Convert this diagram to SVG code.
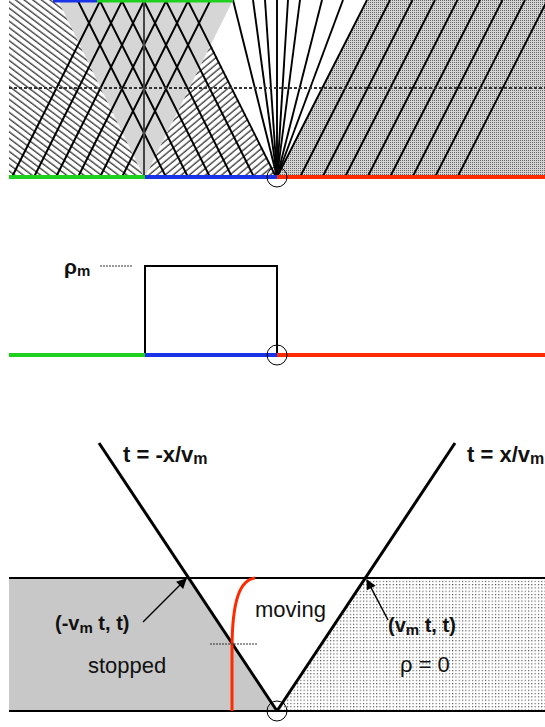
<svg xmlns="http://www.w3.org/2000/svg" width="545" height="727" viewBox="0 0 545 727">
<style>
.ch{stroke:#000;stroke-width:1.9;fill:none}
.thick{stroke:#000;stroke-width:3;fill:none}
.ax{stroke:#000;stroke-width:2;fill:none}
.g{stroke:#1ed11e;stroke-width:4}
.b{stroke:#1a33e6;stroke-width:4}
.r{stroke:#ff2a00;stroke-width:4}
.circ{stroke:#000;stroke-width:1;fill:none}
.dash{stroke:#333;stroke-width:1.8;stroke-dasharray:3 2;fill:none}
text{font-family:"Liberation Sans",Arial,sans-serif;fill:#111}
.bl{font-weight:bold}
</style>
<defs>
<pattern id="hatchL" width="8" height="5.2" patternUnits="userSpaceOnUse" patternTransform="rotate(37)">
<line x1="0" y1="1" x2="8" y2="1" stroke="#111" stroke-width="1.1"/>
</pattern>
<pattern id="hatchR" width="8" height="5.2" patternUnits="userSpaceOnUse" patternTransform="rotate(-40)">
<line x1="0" y1="1" x2="8" y2="1" stroke="#111" stroke-width="1.1"/>
</pattern>
<pattern id="stip" width="2" height="2" patternUnits="userSpaceOnUse">
<rect width="2" height="2" fill="#d4d4d4"/>
<rect width="1" height="1" fill="#666"/>
</pattern>
<pattern id="dots" width="3.3" height="3.3" patternUnits="userSpaceOnUse">
<rect width="3.3" height="3.3" fill="#fff"/>
<rect width="1.1" height="1.1" fill="#444"/>
</pattern>
<marker id="ah" viewBox="0 0 10 10" refX="9" refY="5" markerWidth="11" markerHeight="10" orient="auto" markerUnits="userSpaceOnUse">
<path d="M0,0 L10,5 L0,10 z" fill="#000"/>
</marker>
</defs>

<g id="top-panel">
<polygon points="9,0 58,0 144,177 9,177" fill="url(#hatchL)"/>
<polygon points="145,177 210.8,44.6 277,177" fill="url(#hatchR)"/>
<polygon points="58,0 233,0 145,177 144,177" fill="#d6d6d6"/>
<polygon points="367,0 545,0 545,177 277,177" fill="url(#stip)"/>
<g id="green-chars">
<line class="ch" x1="12" y1="177" x2="100.5" y2="0"/>
<line class="ch" x1="34" y1="177" x2="122.5" y2="0"/>
<line class="ch" x1="56" y1="177" x2="144.5" y2="0"/>
<line class="ch" x1="78" y1="177" x2="166.5" y2="0"/>
<line class="ch" x1="100" y1="177" x2="188.5" y2="0"/>
<line class="ch" x1="122" y1="177" x2="210.5" y2="0"/>
</g>
<g id="blue-chars">
<line class="ch" x1="166" y1="177" x2="77.5" y2="0"/>
<line class="ch" x1="188" y1="177" x2="99.5" y2="0"/>
<line class="ch" x1="210" y1="177" x2="121.5" y2="0"/>
<line class="ch" x1="232" y1="177" x2="143.5" y2="0"/>
<line class="ch" x1="254" y1="177" x2="165.5" y2="0"/>
<line class="ch" x1="276" y1="177" x2="187.5" y2="0"/>
</g>
<g id="fan">
<line class="ch" x1="277" y1="177" x2="233" y2="0"/>
<line class="ch" x1="277" y1="177" x2="253" y2="0"/>
<line class="ch" x1="277" y1="177" x2="265" y2="0"/>
<line class="ch" x1="277" y1="177" x2="277" y2="0"/>
<line class="ch" x1="277" y1="177" x2="288" y2="0"/>
<line class="ch" x1="277" y1="177" x2="300" y2="0"/>
<line class="ch" x1="277" y1="177" x2="322" y2="0"/>
<line class="ch" x1="277" y1="177" x2="343" y2="0"/>
<line class="ch" x1="277" y1="177" x2="367" y2="0"/>
</g>
<g id="red-chars">
<line class="ch" x1="300" y1="177" x2="390" y2="0"/>
<line class="ch" x1="322.5" y1="177" x2="412.5" y2="0"/>
<line class="ch" x1="345" y1="177" x2="435" y2="0"/>
<line class="ch" x1="367.5" y1="177" x2="457.5" y2="0"/>
<line class="ch" x1="390" y1="177" x2="480" y2="0"/>
<line class="ch" x1="412.5" y1="177" x2="502.5" y2="0"/>
<line class="ch" x1="435" y1="177" x2="525" y2="0"/>
<line class="ch" x1="457.5" y1="177" x2="547.5" y2="0"/>
</g>
<line x1="144" y1="0" x2="144" y2="177" stroke="#444" stroke-width="2"/>
<line class="dash" x1="9" y1="88" x2="545" y2="88"/>
<line class="b" x1="53" y1="0.5" x2="97" y2="0.5" stroke-width="3"/>
<line class="g" x1="97" y1="0.5" x2="233" y2="0.5" stroke-width="3"/>
<line class="g" x1="9" y1="177" x2="145" y2="177"/>
<line class="b" x1="145" y1="177" x2="277" y2="177"/>
<line class="r" x1="277" y1="177" x2="545" y2="177"/>
<circle class="circ" cx="277" cy="177" r="10"/>
</g>

<g id="middle-panel">
<polyline class="ax" points="145,355 145,266 277,266 277,355"/>
<line x1="100" y1="266" x2="133" y2="266" stroke="#333" stroke-width="1" stroke-dasharray="2 1"/>
<text class="bl" x="64" y="274" font-size="21">ρ<tspan font-size="15" dy="2">m</tspan></text>
<line class="g" x1="9" y1="355" x2="145" y2="355"/>
<line class="b" x1="145" y1="355" x2="277" y2="355"/>
<line class="r" x1="277" y1="355" x2="545" y2="355"/>
<circle class="circ" cx="277" cy="355" r="10"/>
</g>

<g id="bottom-panel">
<polygon id="stopped-region" points="9,578 188,578 277,711 9,711" fill="#c8c8c8"/>
<polygon id="empty-region" points="366,578 545,578 545,711 277,711" fill="url(#dots)"/>
<line class="ax" x1="9" y1="578" x2="545" y2="578"/>
<line class="ax" x1="9" y1="711" x2="545" y2="711"/>
<g id="connectors">
<line class="thick" x1="99" y1="443" x2="277" y2="711"/>
<line class="thick" x1="455" y1="443" x2="277" y2="711"/>
<line stroke="#000" stroke-width="1.5" x1="143" y1="622" x2="186" y2="579" marker-end="url(#ah)"/>
<line stroke="#000" stroke-width="1.5" x1="388" y1="620" x2="367" y2="580" marker-end="url(#ah)"/>
</g>
<path d="M232,711 L232,650 C232,600 240,580 255,578" stroke="#ff2a00" stroke-width="3" fill="none"/>
<line x1="210" y1="644" x2="257" y2="644" stroke="#333" stroke-width="1.2" stroke-dasharray="2 1"/>
<circle class="circ" cx="277" cy="711" r="10"/>
<text class="bl" x="123" y="462" font-size="22">t = -x/v<tspan font-size="16" dy="2">m</tspan></text>
<text class="bl" x="467" y="462" font-size="22">t = x/v<tspan font-size="16" dy="2">m</tspan></text>
<text class="bl" x="55" y="630" font-size="20">(-v<tspan font-size="15" dy="3">m</tspan><tspan dy="-3"> t, t)</tspan></text>
<text class="bl" x="388" y="632" font-size="20">(v<tspan font-size="15" dy="3">m</tspan><tspan dy="-3"> t, t)</tspan></text>
<text x="255" y="617" font-size="22">moving</text>
<text x="88" y="673" font-size="22">stopped</text>
<text x="400" y="672" font-size="22">ρ = 0</text>
</g>
</svg>
